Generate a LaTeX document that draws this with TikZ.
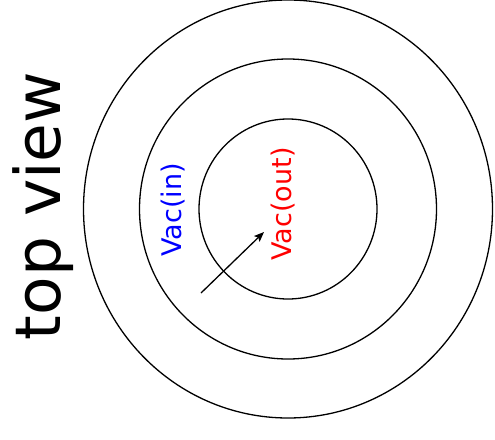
\documentclass[tikz,border=0pt]{standalone}
\usepackage{fontspec}
\setmainfont{DejaVu Sans}
\usetikzlibrary{arrows.meta}
\begin{document}
\begin{tikzpicture}[x=1pt,y=-1pt]
    % Styles
    \tikzset{ring/.style={draw,line width=1.3pt},
             vac label/.style={rotate=90,font=\fontsize{27}{30}\selectfont,inner sep=0pt}}
    \useasboundingbox (0,0) rectangle (495,439);

    % --- Rings (top view) ---
    \coordinate (centre) at (288,209);
    \draw[ring] (centre) ellipse [x radius=204.5, y radius=209];
    \draw[ring] (centre) ellipse [x radius=148.5, y radius=150];
    \draw[ring] (centre) ellipse [x radius=89, y radius=90];

    % --- Labels ---
    \node[vac label, text=blue] (vacin) at (173,210) {Vac(in)};
    \node[vac label, text=red] (vacout) at (283,204) {Vac(out)};
    \node[rotate=90, font=\fontsize{63}{70}\selectfont, inner sep=0pt] (topview) at (43,206) {top view};

    % --- Arrow ---
    \coordinate (arrow_start) at (201,293);
    \coordinate (arrow_end) at (264,232);
    \draw[line width=1.3pt, -{Stealth[length=10pt,width=8pt,inset=2pt]}] (arrow_start) -- (arrow_end);
\end{tikzpicture}
\end{document}
